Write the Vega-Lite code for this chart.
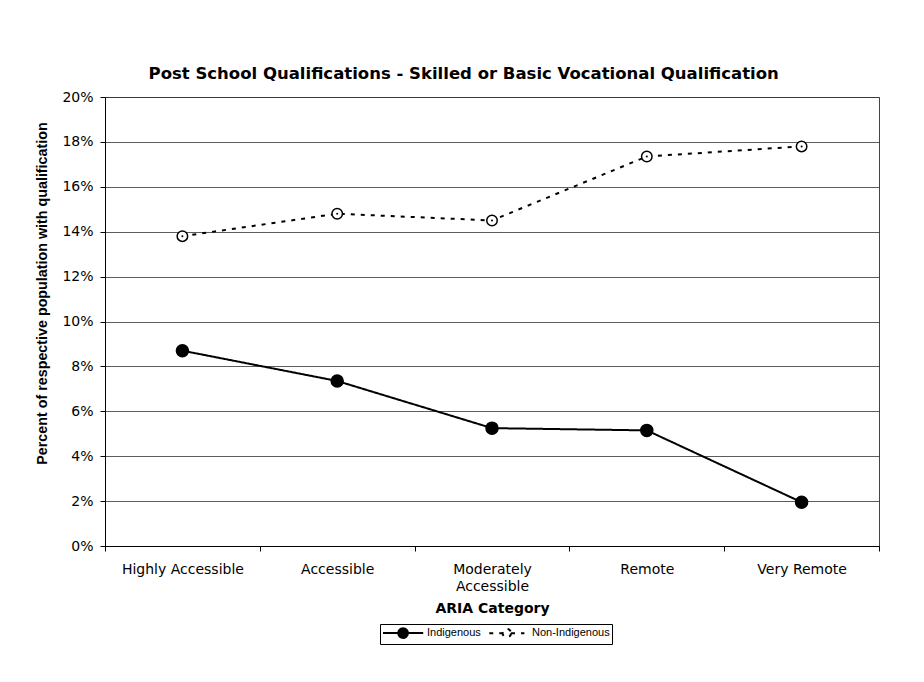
{
  "$schema": "https://vega.github.io/schema/vega-lite/v6.json",
  "width": 774,
  "height": 449,
  "autosize": {"type": "none"},
  "padding": {"left": 105, "top": 97, "right": 45, "bottom": 136},
  "background": "white",
  "config": {
    "font": "DejaVu Sans",
    "view": {"stroke": "#444", "strokeWidth": 1}
  },
  "title": {
    "text": "Post School Qualifications - Skilled or Basic Vocational Qualification",
    "font": "DejaVu Sans",
    "fontSize": 16.5,
    "fontWeight": "bold",
    "color": "black",
    "anchor": "middle",
    "frame": "bounds",
    "offset": 8,
    "dx": 6
  },
  "data": {
    "values": [
      {"aria": "Highly Accessible", "series": "Indigenous", "pct": 0.087},
      {"aria": "Accessible", "series": "Indigenous", "pct": 0.0735},
      {"aria": "Moderately Accessible", "series": "Indigenous", "pct": 0.0525},
      {"aria": "Remote", "series": "Indigenous", "pct": 0.0515},
      {"aria": "Very Remote", "series": "Indigenous", "pct": 0.0195},
      {"aria": "Highly Accessible", "series": "Non-Indigenous", "pct": 0.138},
      {"aria": "Accessible", "series": "Non-Indigenous", "pct": 0.148},
      {"aria": "Moderately Accessible", "series": "Non-Indigenous", "pct": 0.145},
      {"aria": "Remote", "series": "Non-Indigenous", "pct": 0.1735},
      {"aria": "Very Remote", "series": "Non-Indigenous", "pct": 0.178}
    ]
  },
  "encoding": {
    "x": {
      "field": "aria",
      "type": "nominal",
      "sort": ["Highly Accessible", "Accessible", "Moderately Accessible", "Remote", "Very Remote"],
      "scale": {"type": "band", "paddingInner": 0, "paddingOuter": 0},
      "axis": {
        "title": "ARIA Category",
        "titleFont": "DejaVu Sans",
        "titleFontSize": 14,
        "titleFontWeight": "bold",
        "titleColor": "black",
        "titlePadding": 8,
        "labelAngle": 0,
        "labelFont": "DejaVu Sans",
        "labelFontSize": 14,
        "labelColor": "black",
        "labelPadding": 11,
        "labelLineHeight": 17,
        "labelExpr": "datum.label == 'Moderately Accessible' ? ['Moderately', 'Accessible'] : datum.label",
        "tickBand": "extent",
        "tickSize": 5,
        "tickColor": "black",
        "domainColor": "black",
        "grid": false
      }
    },
    "y": {
      "field": "pct",
      "type": "quantitative",
      "scale": {"domain": [0, 0.2]},
      "axis": {
        "title": "Percent of respective population with qualification",
        "titleFont": "Liberation Sans",
        "titleFontSize": 14.3,
        "titleFontWeight": "bold",
        "titleColor": "black",
        "titlePadding": 12,
        "titleY": 196,
        "values": [0, 0.02, 0.04, 0.06, 0.08, 0.1, 0.12, 0.14, 0.16, 0.18, 0.2],
        "format": ".0%",
        "labelFont": "DejaVu Sans",
        "labelFontSize": 14,
        "labelColor": "black",
        "labelPadding": 7,
        "tickSize": 5,
        "tickColor": "black",
        "domainColor": "black",
        "gridColor": "#333",
        "gridWidth": 0.8
      }
    }
  },
  "layer": [
    {
      "mark": {"type": "line", "strokeWidth": 2, "color": "black"},
      "encoding": {
        "strokeDash": {
          "field": "series",
          "type": "nominal",
          "scale": {"domain": ["Indigenous", "Non-Indigenous"], "range": [[1, 0], [4, 6]]},
          "legend": {
            "orient": "none",
            "legendX": 275,
            "legendY": 527,
            "direction": "horizontal",
            "title": null,
            "strokeColor": "black",
            "padding": 2,
            "labelFont": "Liberation Sans",
            "labelFontSize": 11,
            "labelColor": "black",
            "labelOffset": 31,
            "columnPadding": 4,
            "symbolType": "M-1,0H1.55M3.15,0H5.7M3.15,0A0.8,0.8,0,1,1,1.55,0A0.8,0.8,0,1,1,3.15,0Z",
            "symbolStrokeWidth": 2,
            "symbolStrokeColor": "black",
            "encode": {
              "symbols": {
                "update": {
                  "shape": {"value": "M-1,0H1.55M3.15,0H5.7M3.15,0A0.8,0.8,0,1,1,1.55,0A0.8,0.8,0,1,1,3.15,0Z"},
                  "stroke": {"value": "black"},
                  "strokeWidth": {"value": 2},
                  "fill": {"signal": "datum.value == 'Indigenous' ? 'black' : 'white'"},
                  "fillOpacity": {"value": 1},
                  "opacity": {"value": 1}
                }
              }
            }
          }
        }
      }
    },
    {
      "mark": {"type": "point", "shape": "circle", "stroke": "black", "strokeWidth": 1.5, "opacity": 1, "fillOpacity": 1},
      "encoding": {
        "fill": {
          "field": "series",
          "type": "nominal",
          "scale": {"domain": ["Indigenous", "Non-Indigenous"], "range": ["black", "white"]},
          "legend": null
        },
        "size": {
          "field": "series",
          "type": "nominal",
          "scale": {"domain": ["Indigenous", "Non-Indigenous"], "range": [144, 110]},
          "legend": null
        }
      }
    },
    {
      "transform": [{"filter": "datum.series == 'Non-Indigenous'"}],
      "mark": {"type": "point", "shape": "circle", "filled": true, "color": "black", "size": 4, "opacity": 1},
      "encoding": {}
    }
  ]
}
